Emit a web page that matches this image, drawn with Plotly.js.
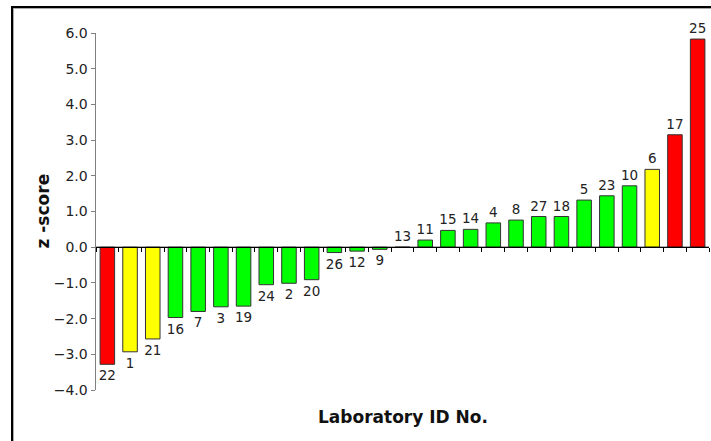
<!DOCTYPE html>
<html>
<head>
<meta charset="utf-8">
<script src="https://cdn.plot.ly/plotly-3.0.1.min.js"></script>
<style>
html,body{margin:0;padding:0;background:#fff;overflow:hidden;}
#wrap{position:relative;width:711px;height:441px;}
#frame{position:absolute;left:11px;top:6px;width:760px;height:500px;border-left:2.5px solid #000;border-top:2.5px solid #000;box-shadow:1px 1px 0 #aaa inset;pointer-events:none;z-index:5;}
#chart{position:absolute;left:0;top:0;width:711px;height:441px;}
</style>
</head>
<body>
<div id="wrap"><div id="chart"></div><div id="frame"></div></div>
<script>
const labIds = ["22","1","21","16","7","3","19","24","2","20","26","12","9","13","11","15","14","4","8","27","18","5","23","10","6","17","25"];
const zScores = [-3.28,-2.93,-2.57,-1.97,-1.80,-1.67,-1.65,-1.05,-1.01,-0.91,-0.15,-0.11,-0.06,0.0,0.20,0.47,0.50,0.68,0.76,0.86,0.86,1.32,1.44,1.72,2.18,3.15,5.83];
const yTickVals = [-4,-3,-2,-1,0,1,2,3,4,5,6];

function colorFor(z){
  const a = Math.abs(z);
  if (a >= 3) return "#FF0000";
  if (a >= 2) return "#FFFF00";
  return "#00FF00";
}

const trace = {
  type: "bar",
  x: labIds,
  y: zScores,
  text: labIds,
  textposition: "outside",
  constraintext: "none",
  cliponaxis: false,
  textfont: {family: "DejaVu Sans, Verdana, sans-serif", size: 13.5, color: "#222"},
  marker: {color: zScores.map(colorFor), line: {color: "#333", width: 1}},
  hoverinfo: "none"
};

const layout = {
  width: 711, height: 441,
  margin: {l: 96, r: 2, t: 33, b: 51},
  paper_bgcolor: "#fff", plot_bgcolor: "rgba(0,0,0,0)",
  showlegend: false,
  bargap: 0.36,
  font: {family: "DejaVu Sans, Verdana, sans-serif", size: 13, color: "#222"},
  xaxis: {
    type: "category",
    categoryorder: "array", categoryarray: labIds,
    anchor: "free", position: 0.4,
    showline: true, linecolor: "#000", linewidth: 1,
    ticks: "outside", tickson: "boundaries", ticklen: 4, tickcolor: "#000", tickwidth: 1,
    showticklabels: false, showgrid: false, zeroline: false
  },
  yaxis: {
    range: [-4, 6],
    tickvals: yTickVals,
    tickformat: ".1f",
    showline: true, linecolor: "#808080", linewidth: 1.5,
    ticks: "outside", ticklen: 4, tickcolor: "#808080", tickwidth: 1,
    showgrid: false, zeroline: false,
    tickfont: {size: 14, color: "#222"}
  },
  annotations: [
    {text: "<b>z -score</b>", xref: "paper", yref: "paper", x: 0, y: 0.5, xshift: -54,
     xanchor: "center", yanchor: "middle", textangle: -90, showarrow: false,
     font: {size: 17, color: "#111"}},
    {text: "<b>Laboratory ID No.</b>", xref: "paper", yref: "paper", x: 0.5, y: 0, yshift: -27,
     xanchor: "center", yanchor: "middle", showarrow: false,
     font: {size: 17, color: "#111"}}
  ],
  shapes: [
    {type: "line", xref: "paper", yref: "y", x0: 0, x1: 1, y0: 0, y1: 0, line: {color: "#000", width: 1}, layer: "above"}
  ]
};

Plotly.newPlot("chart", [trace], layout, {displayModeBar: false, staticPlot: true});
</script>
</body>
</html>
